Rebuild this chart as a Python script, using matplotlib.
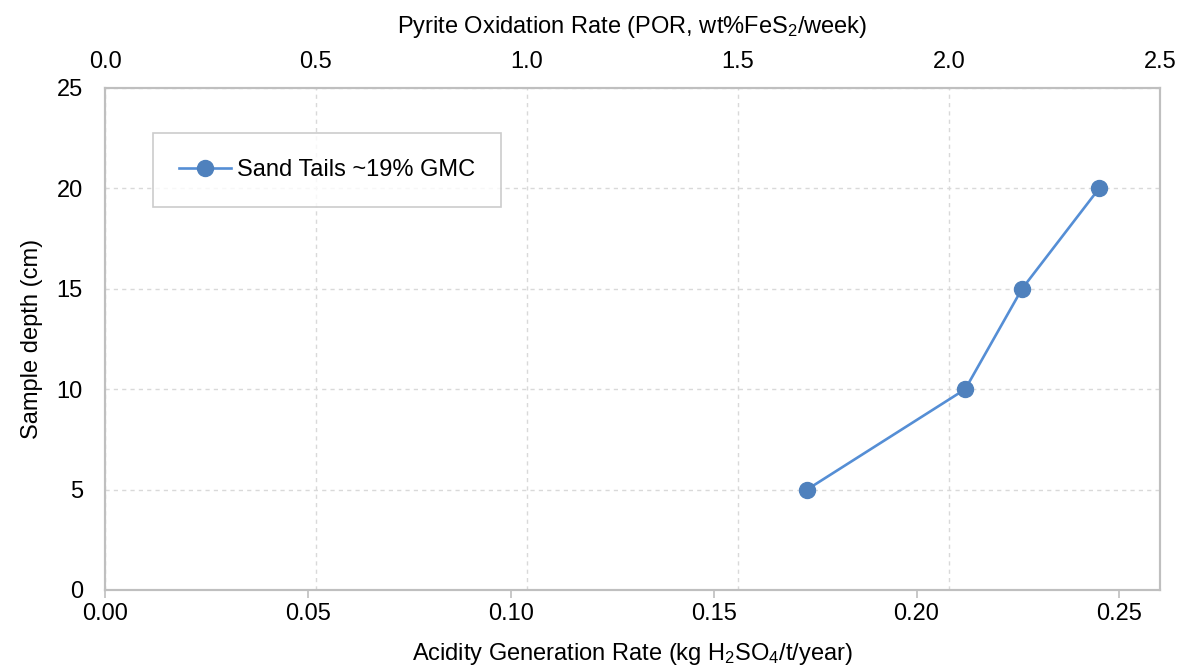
import matplotlib
matplotlib.use("Agg")
import matplotlib.pyplot as plt

# Data
agr = [0.173, 0.212, 0.226, 0.245]   # Acidity generation rate (kg H2SO4/t/year)
depth = [5, 10, 15, 20]              # Sample depth (cm)
series_label = "Sand Tails ~19% GMC"
bottom_ticks = [0.00, 0.05, 0.10, 0.15, 0.20, 0.25]
top_ticks = [0.0, 0.5, 1.0, 1.5, 2.0, 2.5]
y_ticks = [0, 5, 10, 15, 20, 25]

plt.rcParams['font.family'] = ['Liberation Sans', 'DejaVu Sans']
plt.rcParams['mathtext.fontset'] = 'custom'
plt.rcParams['mathtext.rm'] = 'Liberation Sans'
plt.rcParams['mathtext.it'] = 'Liberation Sans:italic'
plt.rcParams['mathtext.bf'] = 'Liberation Sans:bold'

spine_c = '#BFBFBF'
grid_c = '#D9D9D9'
line_c = '#558ED5'
mark_c = '#4F81BD'
fs = 17

fig = plt.figure(figsize=(11.86, 6.72), dpi=100)
ax = fig.add_axes([105/1186, 1-590/672, (1160-105)/1186, (590-88)/672])

ax.plot(agr, depth, color=line_c, lw=1.9, marker='o', ms=11.5, mfc=mark_c, mec=mark_c,
        label=series_label, zorder=5)
ax.set_xlim(0, 0.26)
ax.set_ylim(0, 25)
ax.set_xticks(bottom_ticks)
ax.set_xticklabels([f"{v:.2f}" for v in bottom_ticks])
ax.set_yticks(y_ticks)
ax.tick_params(axis='x', direction='out', length=6, width=1.2, color=spine_c, labelsize=fs, pad=3)
ax.tick_params(axis='y', length=0, labelsize=fs, pad=16)
ax.yaxis.grid(True, color=grid_c, linestyle=(0, (3, 3)), lw=1)
ax.set_xlabel(r"Acidity Generation Rate (kg H$_2$SO$_4$/t/year)", fontsize=fs, labelpad=12)
ax.set_ylabel("Sample depth (cm)", fontsize=fs, labelpad=10)
for s in ax.spines.values():
    s.set_color(spine_c)
    s.set_linewidth(1.5)

ax2 = ax.twiny()
ax2.set_xlim(0, 2.5)
ax2.set_xticks(top_ticks)
ax2.set_xticklabels([f"{v:.1f}" for v in top_ticks])
ax2.tick_params(axis='x', length=0, labelsize=fs, pad=11)
ax2.xaxis.grid(True, color=grid_c, linestyle=(0, (3, 3)), lw=1)
ax2.set_xlabel(r"Pyrite Oxidation Rate (POR, wt%FeS$_2$/week)", fontsize=fs, labelpad=13)
for s in ax2.spines.values():
    s.set_color(spine_c)
    s.set_linewidth(1.5)
ax.set_zorder(ax2.get_zorder() + 1)
ax.patch.set_visible(False)

leg = ax.legend(loc='upper left', bbox_to_anchor=((153-105)/1055, (590-133)/502), fontsize=17,
                frameon=True, fancybox=False, edgecolor=spine_c, borderpad=1.1,
                handlelength=2.2, handletextpad=0.25, borderaxespad=0)
leg.get_frame().set_linewidth(1.2)

fig.savefig("out.png", dpi=100)
